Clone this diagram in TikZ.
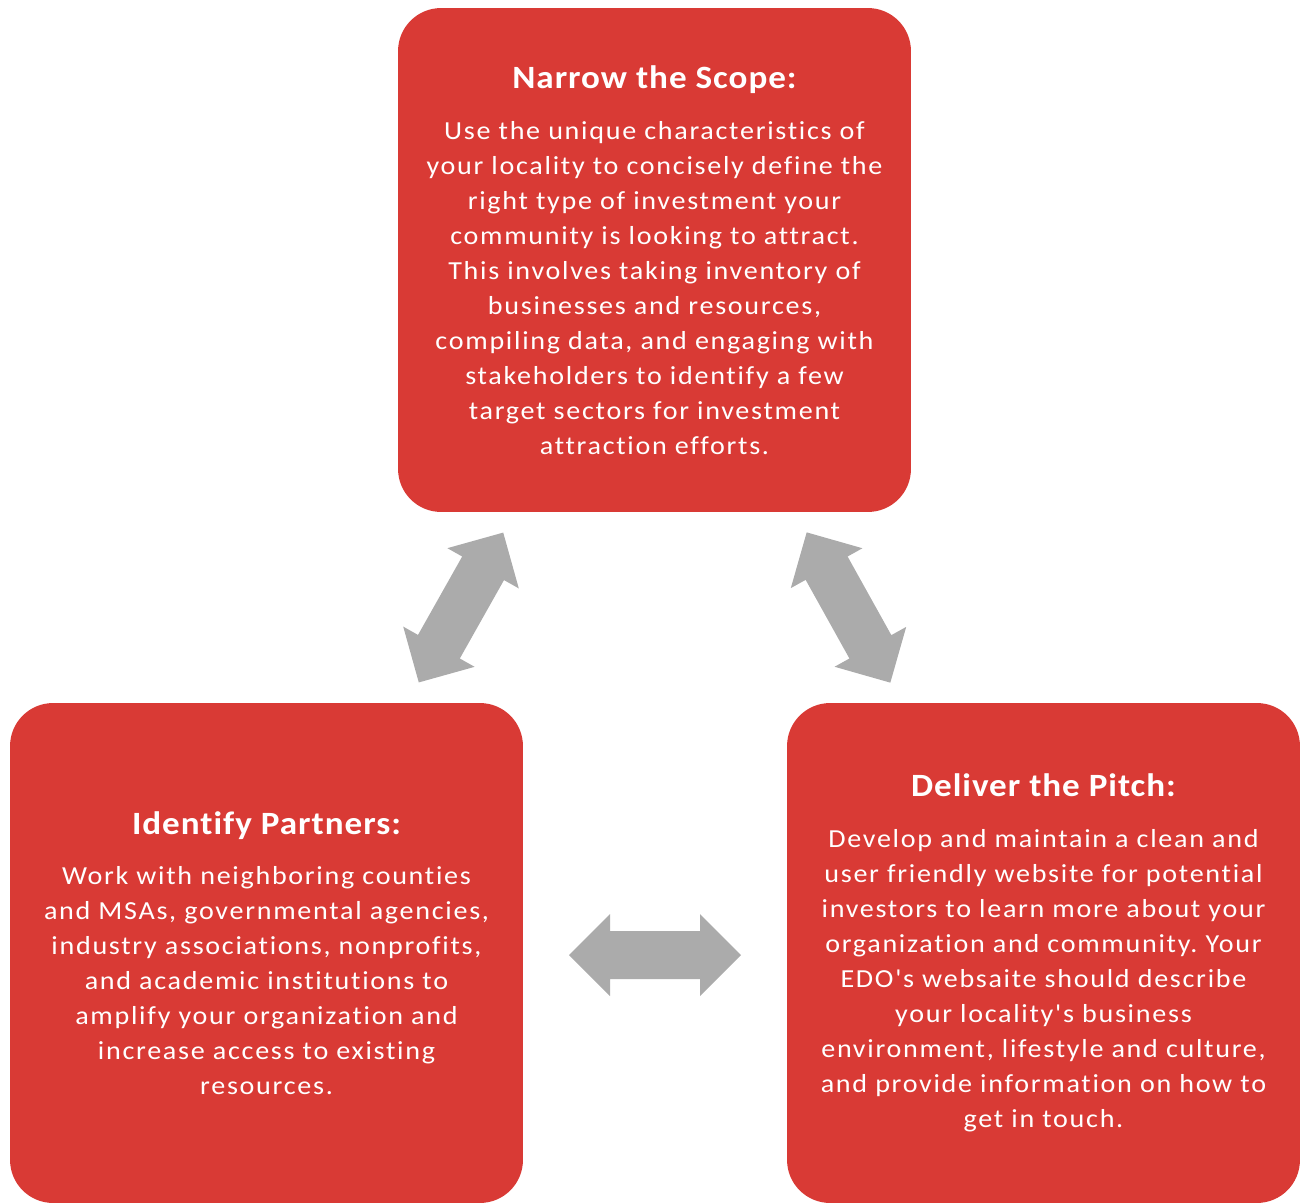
\documentclass[tikz,border=0pt]{standalone}
\usepackage{fontspec}
\setmainfont{Carlito}[Ligatures=TeXOff]
\newfontfamily\cardfont{Carlito}[LetterSpace=6.6, FakeStretch=1.08, Ligatures={TeXOff,NoCommon}]
\newfontfamily\cardheadfont{Carlito}[LetterSpace=3, FakeStretch=1.08, Ligatures={TeXOff,NoCommon}]
\frenchspacing
\definecolor{boxred}{RGB}{217,58,53}
\definecolor{arrowgray}{RGB}{171,171,171}
\tikzset{
  stepcard/.style={fill=boxred, rounded corners=0.86cm, text=white, align=center,
    inner sep=0pt, minimum width=10.26cm, font=\cardfont\fontsize{14.8}{19.9}\selectfont},
  dblarrow/.style={fill=arrowgray}
}
\newcommand{\cardhead}[1]{{\cardheadfont\fontsize{18.5}{22}\selectfont\bfseries #1}}
\begin{document}
\begin{tikzpicture}[x=0.02cm, y=-0.02cm]
		\useasboundingbox (0,0) rectangle (1302,1203);
		% the three steps
		\node[stepcard, minimum height=10.08cm] (scope) at (654.5,260) {\cardhead{Narrow the Scope:}\\[9pt]
			Use the unique characteristics of\\ your locality to concisely define the\\ right type of investment your\\
			community is looking to attract.\\ This involves taking inventory of\\ businesses and resources,\\
			compiling data, and engaging with\\ stakeholders to identify a few\\ target sectors for investment\\
			attraction efforts.};
		\node[stepcard, minimum height=10cm] (partners) at (266.5,953) {\cardhead{Identify Partners:}\\[9pt]
			Work with neighboring counties\\ and MSAs, governmental agencies,\\ industry associations, nonprofits,\\
			and academic institutions to\\ amplify your organization and\\ increase access to existing\\ resources.};
		\node[stepcard, minimum height=10cm] (pitch) at (1043.5,953) {\cardhead{Deliver the Pitch:}\\[9pt]
			Develop and maintain a clean and\\ user friendly website for potential\\ investors to learn more about your\\
			organization and community. Your\\ EDO's websaite should describe\\ your locality's business\\
			environment, lifestyle and culture,\\ and provide information on how to\\ get in touch.};
		% double arrows between them
		\fill[dblarrow, shift={(461,607.5)}, rotate=60.6] (-86,0) -- (-45,41) -- (-45,24) -- (45,24) -- (45,41) -- (86,0)
			-- (45,-41) -- (45,-24) -- (-45,-24) -- (-45,-41) -- cycle;
		\fill[dblarrow, shift={(848.5,607.5)}, rotate=-60.9] (-86,0) -- (-45,41) -- (-45,24) -- (45,24) -- (45,41) -- (86,0)
			-- (45,-41) -- (45,-24) -- (-45,-24) -- (-45,-41) -- cycle;
		\fill[dblarrow, shift={(655,955)}] (-86,0) -- (-45,41) -- (-45,24) -- (45,24) -- (45,41) -- (86,0)
			-- (45,-41) -- (45,-24) -- (-45,-24) -- (-45,-41) -- cycle;
	\end{tikzpicture}
\end{document}
